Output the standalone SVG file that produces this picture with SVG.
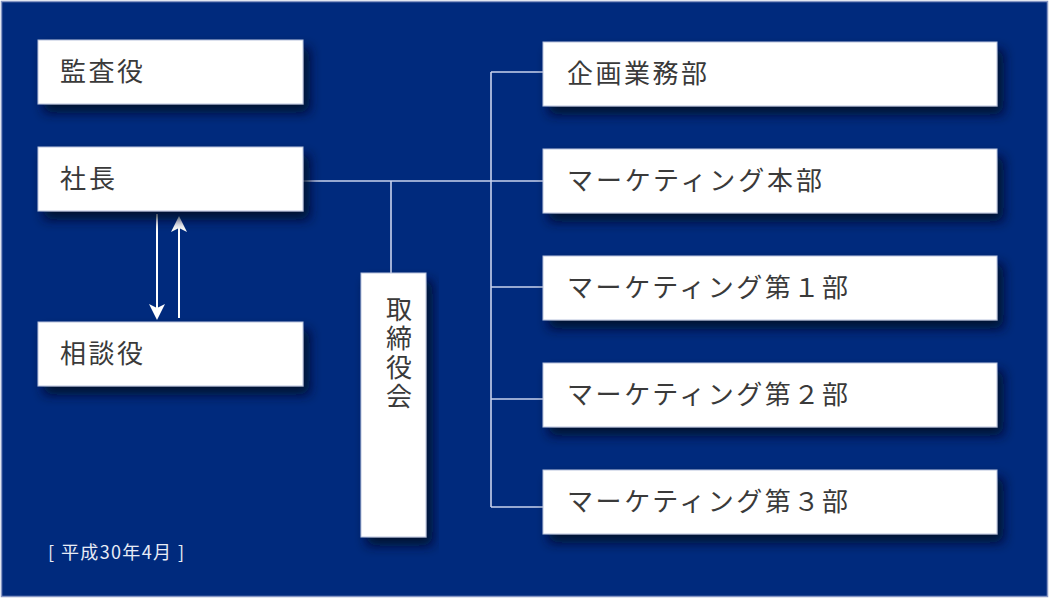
<svg xmlns="http://www.w3.org/2000/svg" width="1050" height="600" viewBox="0 0 1050 600">
<defs>
<filter id="sh" x="-10%" y="-20%" width="130%" height="170%">
<feDropShadow dx="6" dy="8" stdDeviation="6" flood-color="#000a2a" flood-opacity="0.9"/>
</filter>
<marker id="ah" viewBox="0 0 16 16" refX="14" refY="8" markerWidth="16" markerHeight="16" markerUnits="userSpaceOnUse" orient="auto">
<path d="M0,0 L16,8 L0,16 L4,8 Z" fill="#ffffff"/>
</marker>
</defs>
<style>
.box{fill:#ffffff;stroke:#b8c2dc;stroke-width:1;filter:url(#sh)}
.lbl{font-family:"Noto Sans CJK JP","Noto Sans",sans-serif;font-size:26px;fill:#3a3a3a}
.con{stroke:#c9d3ee;stroke-width:1.6;fill:none}
.arr{stroke:#ffffff;stroke-width:2;fill:none;marker-end:url(#ah)}
</style>
<rect x="0" y="0" width="1050" height="600" fill="#ffffff"/>
<rect x="1.5" y="1.5" width="1046" height="595" fill="#002a7d" stroke="#8696c4" stroke-width="1.5"/>

<g id="connectors">
<path class="con" d="M303,181 H543"/>
<path class="con" d="M391,181 V273"/>
<path class="con" d="M491,72 V507"/>
<path class="con" d="M491,72 H543"/>
<path class="con" d="M491,287 H543"/>
<path class="con" d="M491,399 H543"/>
<path class="con" d="M491,507 H543"/>
<path class="arr" d="M157,214 V318"/>
<path class="arr" d="M179,318 V218"/>
</g>

<g id="kansayaku">
<rect class="box" x="38" y="40" width="265" height="64"/>
<text class="lbl" x="60" y="81" textLength="83" lengthAdjust="spacing">監査役</text>
</g>
<g id="shacho">
<rect class="box" x="38" y="147" width="265" height="64"/>
<text class="lbl" x="60" y="188" textLength="55" lengthAdjust="spacing">社長</text>
</g>
<g id="sodanyaku">
<rect class="box" x="38" y="322" width="265" height="64"/>
<text class="lbl" x="60" y="363" textLength="83" lengthAdjust="spacing">相談役</text>
</g>
<g id="torishimariyakukai">
<rect class="box" x="361" y="273" width="65" height="264"/>
<text class="lbl" x="399" y="296" style="writing-mode:vertical-rl;letter-spacing:3px">取締役会</text>
</g>
<g id="kikaku">
<rect class="box" x="543" y="42" width="454" height="64"/>
<text class="lbl" x="567" y="83" textLength="140" lengthAdjust="spacing">企画業務部</text>
</g>
<g id="mk-honbu">
<rect class="box" x="543" y="149" width="454" height="64"/>
<text class="lbl" x="567" y="190" textLength="255" lengthAdjust="spacing">マーケティング本部</text>
</g>
<g id="mk-1">
<rect class="box" x="543" y="256" width="454" height="64"/>
<text class="lbl" x="567" y="297" textLength="281" lengthAdjust="spacing">マーケティング第１部</text>
</g>
<g id="mk-2">
<rect class="box" x="543" y="363" width="454" height="64"/>
<text class="lbl" x="567" y="404" textLength="281" lengthAdjust="spacing">マーケティング第２部</text>
</g>
<g id="mk-3">
<rect class="box" x="543" y="470" width="454" height="64"/>
<text class="lbl" x="567" y="511" textLength="281" lengthAdjust="spacing">マーケティング第３部</text>
</g>
<text x="48" y="559" font-family="'Noto Sans CJK JP','Noto Sans',sans-serif" font-size="18" fill="#e8ecf6" textLength="136" lengthAdjust="spacing">[ 平成30年4月 ]</text>
</svg>
